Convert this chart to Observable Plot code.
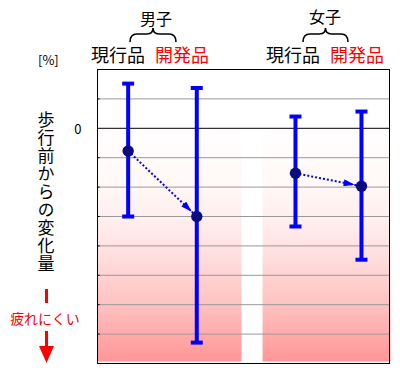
<!DOCTYPE html>
<html><head><meta charset="utf-8">
<script src="https://cdn.jsdelivr.net/npm/d3@7"></script>
<script src="https://cdn.jsdelivr.net/npm/@observablehq/plot@0.6"></script>
<style>
body{margin:0;background:#fff}
#chart{position:relative;width:400px;height:380px}
</style>
</head><body><div id="chart"></div>
<script>
// ---- data (values in grid steps; 0 = no change) ----
const groups = ["男子", "男子", "女子", "女子"];
const products = ["現行品", "開発品", "現行品", "開発品"];
const xPos = [10.5, 34, 67.8, 90.4];
const means = [-0.77, -3.0, -1.53, -1.97];
const highs = [1.52, 1.37, 0.40, 0.57];
const lows = [-3.0, -7.29, -3.34, -4.47];
const gridValues = [-7, -6, -5, -4, -3, -2, -1, 1];
const zeroTick = [0];
const bandStarts = [0, 56.7];
const bandEnds = [49.5, 100.5];

const rows = xPos.map((x, i) => ({group: groups[i], product: products[i], x, mean: means[i], hi: highs[i], lo: lows[i]}));
const arrows = [[0, 1], [2, 3]].map(([a, b]) => ({x1: rows[a].x, y1: rows[a].mean, x2: rows[b].x, y2: rows[b].mean}));
const bands = bandStarts.map((s, i) => ({x1: s, x2: bandEnds[i], y1: 0, y2: -7.95}));

const cap = {draw(ctx) { ctx.moveTo(-6, -2); ctx.lineTo(6, -2); ctx.lineTo(6, 2); ctx.lineTo(-6, 2); ctx.closePath(); }};
const FONT = "'Noto Sans CJK JP', sans-serif";

const plot = Plot.plot({
  width: 400, height: 380,
  marginTop: 69, marginBottom: 17, marginLeft: 97, marginRight: 11,
  x: {domain: [0, 100], axis: null},
  y: {domain: [-8, 2], axis: null},
  style: {overflow: "visible", fontFamily: FONT, background: "transparent"},
  marks: [
    Plot.rect(bands, {x1: "x1", x2: "x2", y1: "y1", y2: "y2", fill: "url(#pinkGrad)"}),
    Plot.ruleY(gridValues, {stroke: "#999", strokeWidth: 1}),
    Plot.ruleY(gridValues, {x1: 0, x2: 0.9, stroke: "#000", strokeWidth: 1}),
    Plot.ruleY(zeroTick, {stroke: "#000", strokeWidth: 1}),
    Plot.text(zeroTick, {x: 0, y: d => d, text: d => String(d), dx: -16, dy: 2, textAnchor: "end", fontSize: 13, fill: "#000"}),
    Plot.frame({stroke: "#000", strokeWidth: 1}),
    Plot.ruleX(rows, {x: "x", y1: "lo", y2: "hi", stroke: "#0000ff", strokeWidth: 4}),
    Plot.dot(rows, {x: "x", y: "hi", symbol: cap, fill: "#0000ff", stroke: null}),
    Plot.dot(rows, {x: "x", y: "lo", symbol: cap, fill: "#0000ff", stroke: null}),
    Plot.link(arrows, {x1: "x1", y1: "y1", x2: "x2", y2: "y2", stroke: "#0000ff", strokeWidth: 2, strokeDasharray: "2,2"}),
    Plot.dot(rows, {x: "x", y: "mean", r: 5.7, fill: "#0c0c80", stroke: null})
  ]
});
document.getElementById("chart").appendChild(plot);

const svg = d3.select(plot);
const defs = svg.insert("defs", ":first-child");
const grad = defs.append("linearGradient").attr("id", "pinkGrad").attr("x1", 0).attr("y1", 0).attr("x2", 0).attr("y2", 1);
[[0, "#ffffff"], [0.25, "#fff8f6"], [0.4, "#ffeeee"], [0.55, "#ffdede"], [0.75, "#ffc2c2"], [1, "#ff9696"]]
  .forEach(([o, c]) => grad.append("stop").attr("offset", o).attr("stop-color", c));
const mk = defs.append("marker").attr("id", "ahead").attr("viewBox", "0 0 11 7")
  .attr("refX", 18).attr("refY", 3.5).attr("markerUnits", "userSpaceOnUse")
  .attr("markerWidth", 11).attr("markerHeight", 7).attr("orient", "auto");
mk.append("path").attr("d", "M0,0L11,3.5L0,7Z").attr("fill", "#0000ff");
svg.selectAll('g[aria-label="link"] path').attr("marker-end", "url(#ahead)");

// annotations
const ann = svg.append("g").attr("font-family", FONT);
function txt(x, y, s, opts = {}) {
  const t = ann.append("text").attr("x", x).attr("y", y).text(s)
    .attr("font-size", opts.size || 17).attr("fill", opts.fill || "#000")
    .attr("text-anchor", opts.anchor || "start");
  if (opts.style) t.attr("style", opts.style);
  return t;
}
function brace(cx, w) {
  const top = 28, mid = 34, bot = 42;
  ann.append("path").attr("fill", "none").attr("stroke", "#000").attr("stroke-width", 1.6)
    .attr("d", `M${cx - w},${bot}Q${cx - w},${mid} ${cx - w + 7},${mid}L${cx - 6},${mid}Q${cx},${mid} ${cx},${top}Q${cx},${mid} ${cx + 6},${mid}L${cx + w - 7},${mid}Q${cx + w},${mid} ${cx + w},${bot}`);
}
txt(156, 25, "男子", {size: 16, anchor: "middle"});
txt(325, 23, "女子", {size: 16, anchor: "middle"});
brace(153, 23);
brace(325.5, 22.5);
txt(91, 62, "現行品", {size: 18});
txt(155, 62, "開発品", {size: 18, fill: "#ff0000"});
txt(266, 62, "現行品", {size: 18});
txt(330, 62, "開発品", {size: 18, fill: "#ff0000"});
txt(38, 65, "[%]", {size: 13});
txt(46, 111, "歩行前からの変化量", {size: 17, style: "writing-mode:vertical-rl;text-orientation:upright;letter-spacing:1px"});
txt(45, 324, "疲れにくい", {size: 14, fill: "#ff0000", anchor: "middle"});
ann.append("line").attr("x1", 46.5).attr("x2", 46.5).attr("y1", 289).attr("y2", 303).attr("stroke", "#ff0000").attr("stroke-width", 3);
ann.append("line").attr("x1", 46.5).attr("x2", 46.5).attr("y1", 331).attr("y2", 348).attr("stroke", "#ff0000").attr("stroke-width", 3);
ann.append("path").attr("d", "M39,346L54,346L46.5,363Z").attr("fill", "#ff0000");
</script>
</body></html>
